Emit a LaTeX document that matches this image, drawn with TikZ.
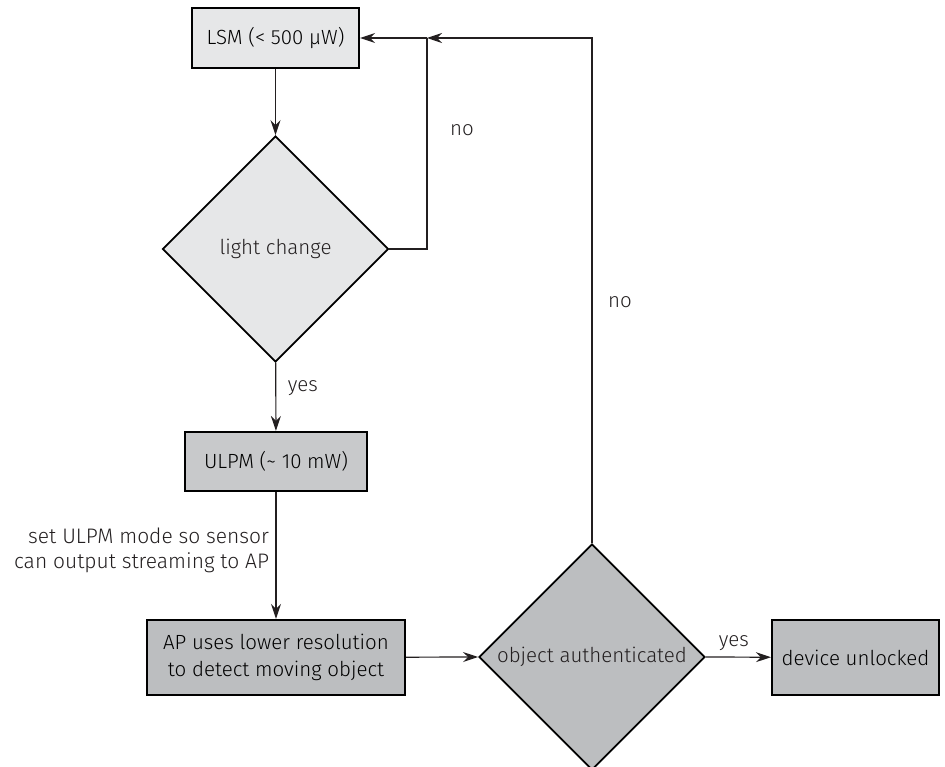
\documentclass[tikz,border=0pt]{standalone}
\usepackage{fontspec}
\setmainfont{Fira Sans Light}
\usetikzlibrary{arrows.meta,shapes.geometric}

\definecolor{palegray}{HTML}{E6E7E8}
\definecolor{midgray}{HTML}{C8C9CB}
\definecolor{deepgray}{HTML}{BCBEC0}
\definecolor{inkgray}{HTML}{231F20}

\tikzset{
  flowbox/.style={rectangle, draw=black, line width=2.2pt, inner sep=0pt, font=\fontsize{20.5}{27}\selectfont},
  decision/.style={diamond, draw=black, line width=1.9pt, minimum width=226pt, minimum height=226pt, inner sep=0pt},
  flow/.style={draw=inkgray, line width=1.2pt, -{Stealth[length=15pt,width=10pt,inset=5pt]}},
  link/.style={draw=inkgray, line width=1.2pt},
  tag/.style={font=\fontsize{20.5}{25}\selectfont, text=inkgray}
}

\begin{document}
\begin{tikzpicture}[x=1pt,y=-1pt]
\useasboundingbox (0,0) rectangle (945,767);
% boxes and decisions
\node[flowbox, fill=palegray, minimum width=167pt, minimum height=60pt] (lsm) at (275.5,38) {LSM (< 500 µW)};
\node[decision, fill=palegray] (light) at (275.5,249) {};
\node[tag] at (light.center) {light change};
\node[flowbox, fill=midgray, minimum width=182pt, minimum height=59pt] (ulpm) at (276,461.5) {ULPM (\textasciitilde\ 10 mW)};
\node[flowbox, fill=deepgray, minimum width=258pt, minimum height=75pt, align=center] (ap) at (276,657.5) {AP uses lower resolution\\to detect moving object};
\node[decision, fill=deepgray] (auth) at (592,657) {};
\node[tag] at (auth.center) {object authenticated};
\node[flowbox, fill=deepgray, minimum width=167pt, minimum height=75pt] (unlock) at (855.5,657.5) {device unlocked};
\coordinate (join) at (427,38);
% connectors
\draw[flow] (lsm) -- (light);
\draw[link] (light.east) -| (join);
\draw[flow] (join) -- (lsm.east);
\draw[flow] (light) -- node[tag, right, pos=0.38, xshift=8pt] {yes} (ulpm);
\draw[flow] (ulpm) -- node[tag, left, align=right, pos=0.46, xshift=-3pt, font=\fontsize{21}{25}\selectfont] {set ULPM mode so sensor\\can output streaming to AP} (ap);
\draw[flow] (ap) -- (auth.west);
\draw[flow] (auth.north) |- (join);
\draw[flow] (auth.east) -- node[tag, above, pos=0.43, yshift=2pt] {yes} (unlock);
\node[tag] at (462,130) {no};
\node[tag] at (620,302) {no};
\end{tikzpicture}
\end{document}
